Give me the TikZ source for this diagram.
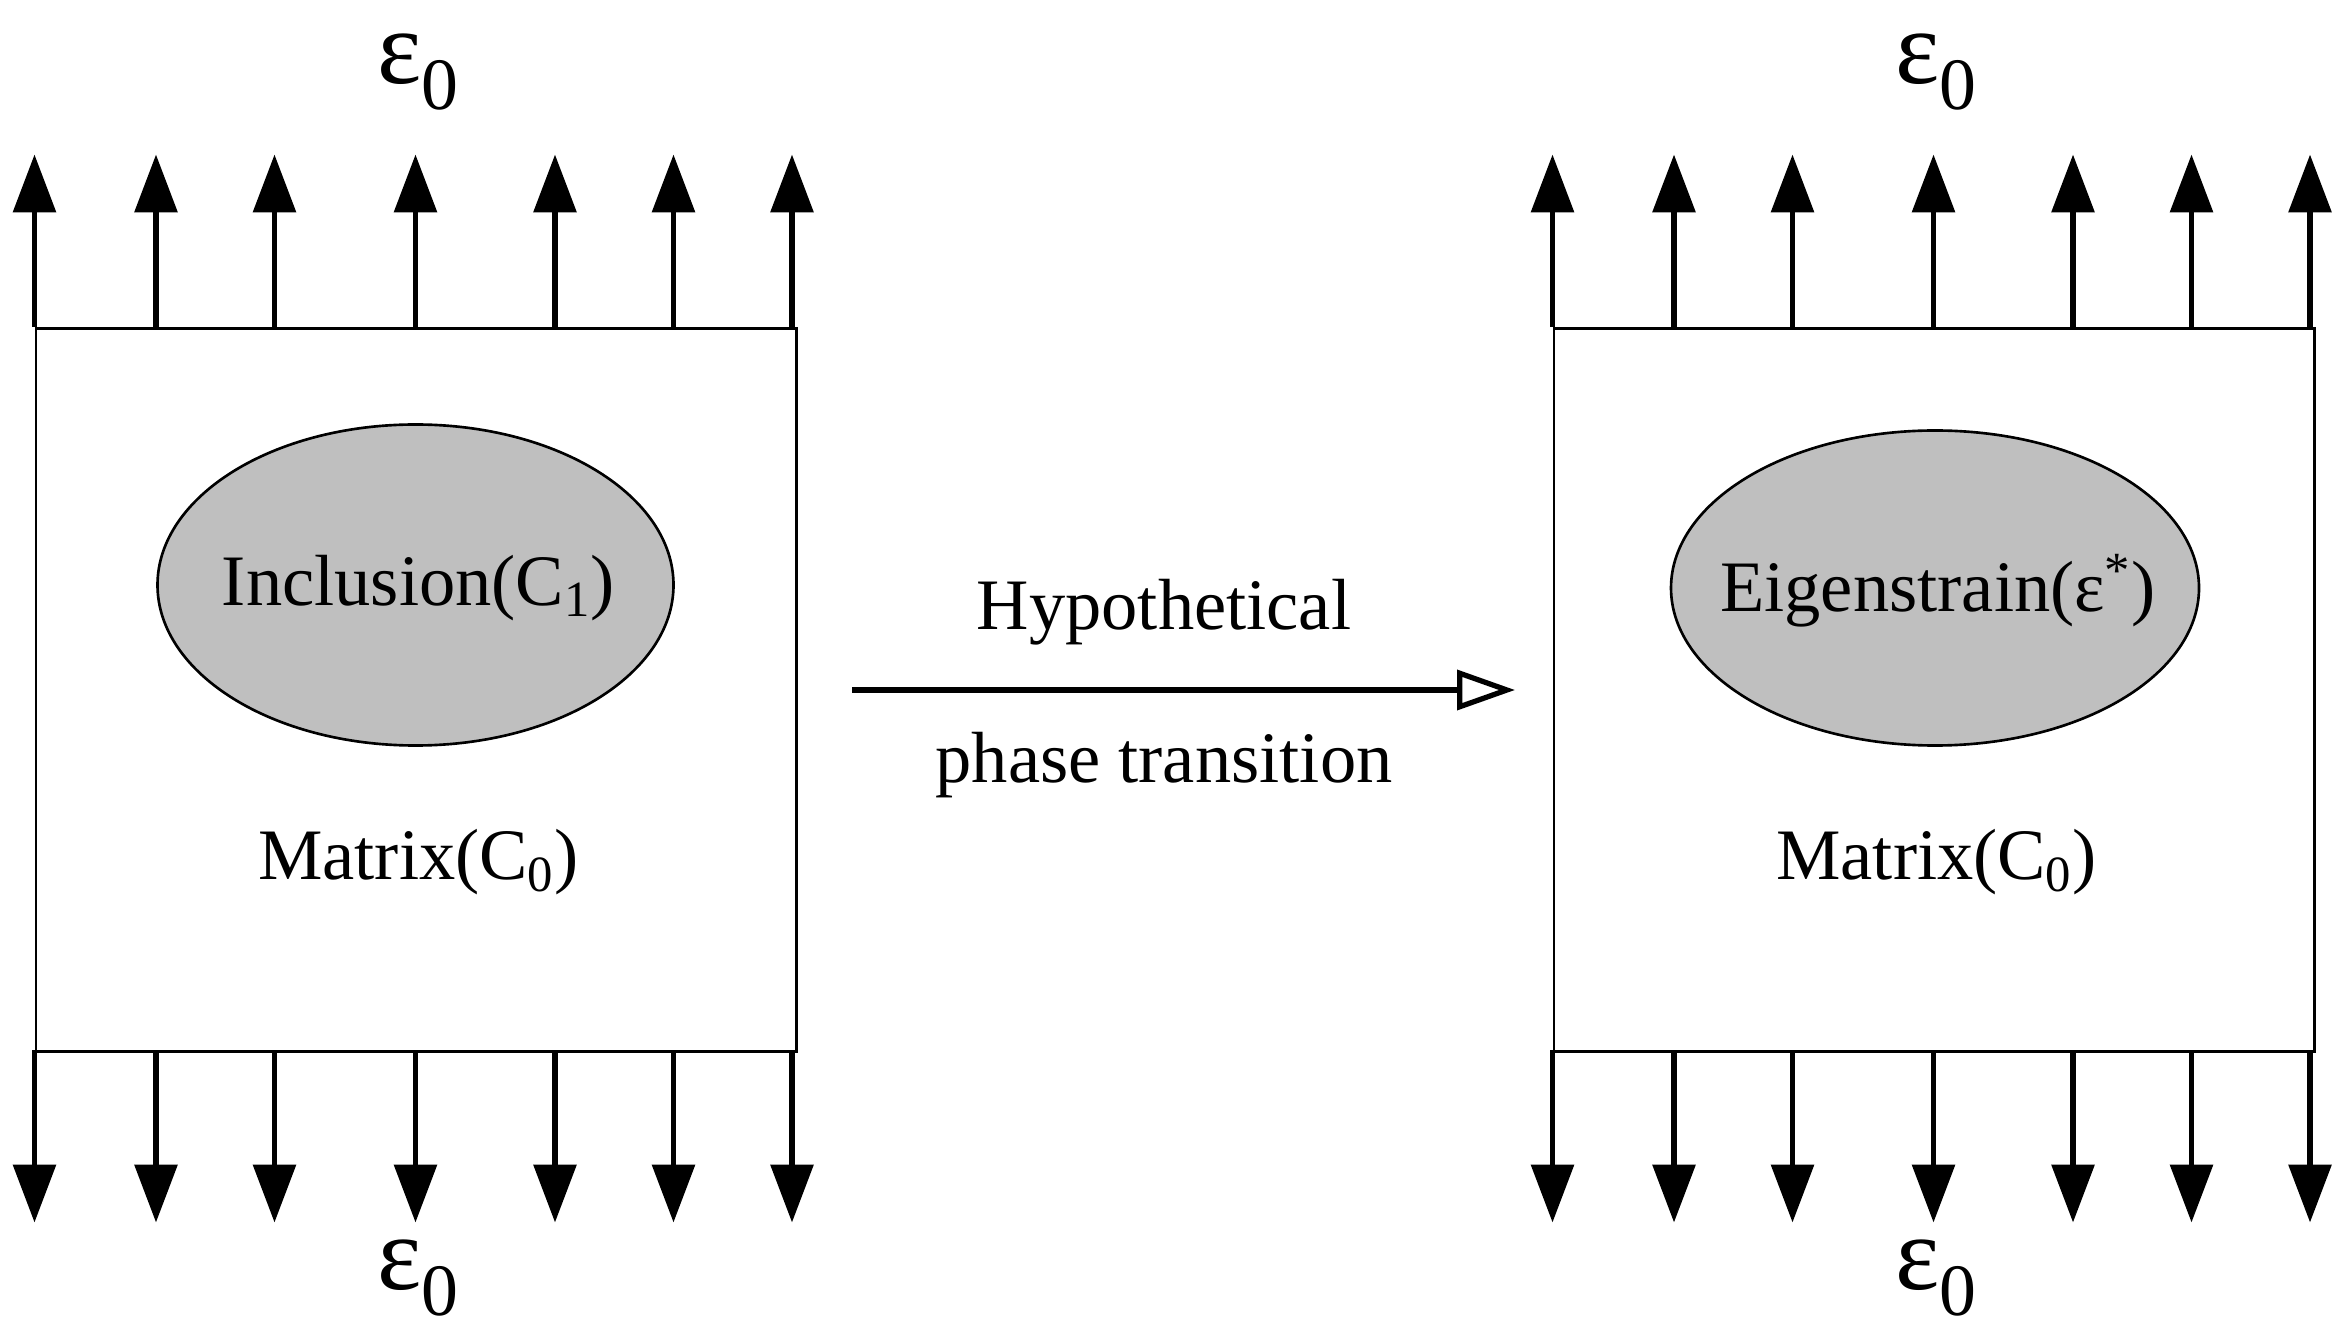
\documentclass[tikz,border=0pt]{standalone}
\usepackage{fontspec}
\setmainfont{Liberation Serif}
\usetikzlibrary{arrows.meta}
\begin{document}
\begin{tikzpicture}[x=0.02cm,y=-0.02cm,
  box/.style={draw,line width=1pt},
  load/.style={line width=2.2pt,-{Triangle[length=22pt,width=16pt]}},
  incl/.style={draw,fill=black!25,line width=1pt},
  lbl/.style={font=\fontsize{27.5}{30}\selectfont},
  eps/.style={font=\fontsize{40}{44}\selectfont}]
\useasboundingbox (0,0) rectangle (1568,891);
\foreach \n/\ox in {L/0,R/1012}{
  \node[box,minimum width=507*0.02cm,minimum height=482*0.02cm,inner sep=0,anchor=north west] (box\n) at (23+\ox,218) {};
  \foreach \i/\x in {1/23,2/104,3/183,4/277,5/370,6/449,7/528}{
    \coordinate (t\n\i) at (\x+\ox,218);
    \coordinate (tt\n\i) at (\x+\ox,103);
    \coordinate (b\n\i) at (\x+\ox,700);
    \coordinate (bb\n\i) at (\x+\ox,815);
    \draw[load] (t\n\i) -- (tt\n\i);
    \draw[load] (b\n\i) -- (bb\n\i);
  }
  \node[eps] (et\n) at (279+\ox,48) {ε\textsubscript{0}};
  \node[eps] (eb\n) at (279+\ox,852) {ε\textsubscript{0}};
  \node[lbl] (m\n) at (279+\ox,575) {Matrix(C\textsubscript{0})};
}
\draw[incl] (277,390) ellipse [x radius=172, y radius=107];
\node[lbl] (inc) at (279,392) {Inclusion(C\textsubscript{1})};
\draw[incl] (1290,392) ellipse [x radius=176, y radius=105];
\node[lbl] (eig) at (1292,394) {Eigenstrain(ε\textsuperscript{*})};
\coordinate (a1) at (568,460);
\coordinate (a2) at (1010,460);
\draw[line width=2pt,-{Triangle[open,length=22pt,width=15pt]}] (a1) -- (a2);
\node[lbl] (h1) at (776,408) {Hypothetical};
\node[lbl] (h2) at (776,510) {phase transition};
\end{tikzpicture}
\end{document}
